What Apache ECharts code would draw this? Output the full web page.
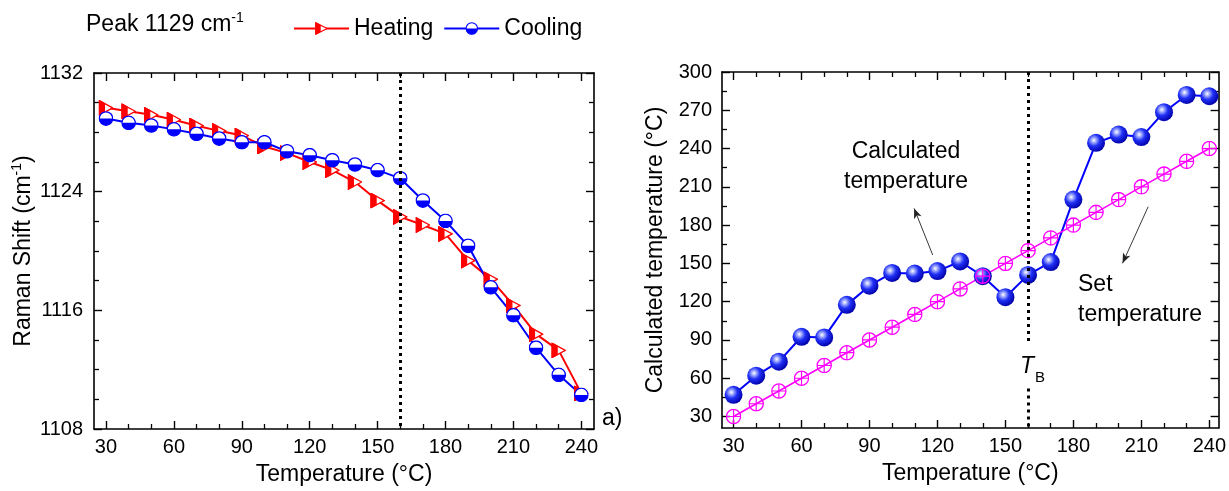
<!DOCTYPE html>
<html>
<head>
<meta charset="utf-8">
<style>
  html, body { margin: 0; padding: 0; background: #fff; }
  #container { width: 1229px; height: 491px; }
</style>
<script src="https://cdn.jsdelivr.net/npm/echarts@6/dist/echarts.min.js"></script>
</head>
<body>
<div id="container"></div>
<script>
// ---- data ----
var temps = [30, 40, 50, 60, 70, 80, 90, 100, 110, 120, 130, 140, 150, 160, 170, 180, 190, 200, 210, 220, 230, 240];
var heating = [1129.65, 1129.42, 1129.18, 1128.85, 1128.45, 1128.1, 1127.78, 1127.05, 1126.6, 1126.0, 1125.45,
  1124.65, 1123.4, 1122.3, 1121.75, 1121.15, 1119.35, 1118.1, 1116.33, 1114.4, 1113.3, 1110.4];
var cooling = [1128.93, 1128.64, 1128.46, 1128.2, 1127.9, 1127.58, 1127.33, 1127.33, 1126.72, 1126.46, 1126.12,
  1125.83, 1125.45, 1124.9, 1123.4, 1122.03, 1120.35, 1117.55, 1115.67, 1113.48, 1111.65, 1110.3];
var calculated = [47, 62, 73, 92.5, 92, 117.5, 132.5, 142.5, 142, 144, 151.5, 140, 123.5, 141, 151, 200, 244.5, 251, 249, 268.5, 282, 281];
var setTemp = [30, 40, 50, 60, 70, 80, 90, 100, 110, 120, 130, 140, 150, 160, 170, 180, 190, 200, 210, 220, 230, 240];

var tempTicks = [30, 60, 90, 120, 150, 180, 210, 240];
var tempMinor = [40, 50, 70, 80, 100, 110, 130, 140, 160, 170, 190, 200, 220, 230];
var shiftTicks = [1108, 1116, 1124, 1132];
var shiftMinor = [1110, 1112, 1114, 1118, 1120, 1122, 1126, 1128, 1130];
var calcTicks = [30, 60, 90, 120, 150, 180, 210, 240, 270, 300];
var calcMinor = [45, 75, 105, 135, 165, 195, 225, 255, 285];
var transitionT = 160;

var FONT = '"Liberation Sans", Arial, sans-serif';

function svgSym(svg) {
  return 'image://data:image/svg+xml;charset=utf-8,' + encodeURIComponent(svg);
}
// right-pointing triangle, left part filled
var triSym = svgSym('<svg xmlns="http://www.w3.org/2000/svg" width="30" height="32" viewBox="0 0 15 16">' +
  '<polygon points="0.8,0.8 14.2,8 0.8,15.2" fill="#fff" stroke="#ff0000" stroke-width="1.3"/>' +
  '<polygon points="0.8,0.8 6,3.6 6,12.4 0.8,15.2" fill="#ff0000" stroke="#ff0000" stroke-width="1.1"/></svg>');
// circle, lower half filled
var halfSym = svgSym('<svg xmlns="http://www.w3.org/2000/svg" width="30" height="30" viewBox="0 0 15 15">' +
  '<circle cx="7.5" cy="7.5" r="6.7" fill="#fff"/>' +
  '<path d="M0.8,7.5 A6.7,6.7 0 0 0 14.2,7.5 Z" fill="#0000ff"/>' +
  '<circle cx="7.5" cy="7.5" r="6.7" fill="none" stroke="#0000ff" stroke-width="1.3"/></svg>');
// open circle with plus
var plusSym = svgSym('<svg xmlns="http://www.w3.org/2000/svg" width="32" height="32" viewBox="0 0 16 16">' +
  '<circle cx="8" cy="8" r="7.1" fill="none" stroke="#ff00ff" stroke-width="1.3"/>' +
  '<path d="M8,0.9 V15.1 M0.9,8 H15.1" stroke="#ff00ff" stroke-width="1.2"/></svg>');

function axisPair(grid, pos, min, max, major, minor, extra) {
  var line = { show: true, onZero: false, lineStyle: { color: '#000', width: 1.6 } };
  var a = Object.assign({
    type: 'value', gridIndex: grid, position: pos, min: min, max: max,
    splitLine: { show: false }, axisLine: line,
    axisTick: { show: true, inside: true, length: 8, customValues: major, lineStyle: { color: '#000', width: 1.4 } },
    axisLabel: { show: false }
  }, extra || {});
  var b = {
    type: 'value', gridIndex: grid, position: pos, min: min, max: max,
    splitLine: { show: false }, axisLine: { show: false },
    axisTick: { show: true, inside: true, length: 5, customValues: minor, lineStyle: { color: '#000', width: 1.3 } },
    axisLabel: { show: false }
  };
  return [a, b];
}

function labels(vals, margin) {
  return {
    show: true, customValues: vals, margin: margin, fontSize: 20, color: '#000', fontFamily: FONT,
    formatter: function (v) { return String(v); }
  };
}
var nameStyle = {
  fontSize: 23, color: '#000', fontFamily: FONT,
  rich: {
    t: { fontSize: 23, color: '#000', fontFamily: FONT, lineHeight: 28 },
    s: { fontSize: 14, color: '#000', fontFamily: FONT, verticalAlign: 'top', lineHeight: 14 }
  }
};

var xAxes = [].concat(
  axisPair(0, 'bottom', 24.7, 245.6, tempTicks, tempMinor, {
    axisLabel: labels(tempTicks, 8), name: 'Temperature (°C)', nameLocation: 'middle', nameGap: 34, nameTextStyle: nameStyle
  }),
  axisPair(0, 'top', 24.7, 245.6, tempTicks, tempMinor),
  axisPair(1, 'bottom', 24.9, 244.1, tempTicks, tempMinor, {
    axisLabel: labels(tempTicks, 8), name: 'Temperature (°C)', nameLocation: 'middle', nameGap: 34, nameTextStyle: nameStyle
  }),
  axisPair(1, 'top', 24.9, 244.1, tempTicks, tempMinor)
);
var yAxes = [].concat(
  axisPair(0, 'left', 1108, 1132, shiftTicks, shiftMinor, {
    axisLabel: labels(shiftTicks, 11), name: '{t|Raman Shift (cm}{s|-1}{t|)}', nameLocation: 'middle', nameGap: 56, nameTextStyle: nameStyle
  }),
  axisPair(0, 'right', 1108, 1132, shiftTicks, shiftMinor),
  axisPair(1, 'left', 21, 300, calcTicks, calcMinor, {
    axisLabel: labels(calcTicks, 10), name: 'Calculated temperature (°C)', nameLocation: 'middle', nameGap: 55, nameTextStyle: nameStyle
  }),
  axisPair(1, 'right', 21, 300, calcTicks, calcMinor)
);

function pairs(ys) {
  return temps.map(function (t, i) { return [t, ys[i]]; });
}

var dotted = { color: '#000', type: [3, 4], width: 3 };
var arrowStyle = { color: '#222', type: 'solid', width: 0.9 };

var option = {
  animation: false,
  textStyle: { fontFamily: FONT },
  grid: [
    { left: 94, top: 73, width: 500, height: 358 },
    { left: 722, top: 72, width: 497, height: 356 }
  ],
  legend: {
    data: ['Heating', 'Cooling'],
    left: 288, top: 12,
    itemWidth: 55, itemHeight: 16, itemGap: 10,
    textStyle: { fontSize: 23, color: '#000', fontFamily: FONT }
  },
  xAxis: xAxes,
  yAxis: yAxes,
  series: [
    {
      name: 'Heating', type: 'line', xAxisIndex: 0, yAxisIndex: 0,
      data: pairs(heating), symbol: triSym, symbolSize: [15, 16],
      itemStyle: { color: '#ff0000' }, lineStyle: { color: '#ff0000', width: 2 }
    },
    {
      name: 'Cooling', type: 'line', xAxisIndex: 0, yAxisIndex: 0,
      data: pairs(cooling), symbol: halfSym, symbolSize: 15,
      itemStyle: { color: '#0000ff' }, lineStyle: { color: '#0000ff', width: 2 },
      markLine: {
        silent: true, symbol: 'none', label: { show: false }, lineStyle: dotted,
        data: [[{ coord: [transitionT, 1132] }, { coord: [transitionT, 1108] }]]
      }
    },
    {
      name: 'Calculated', type: 'line', xAxisIndex: 4, yAxisIndex: 4,
      data: pairs(calculated), symbol: 'circle', symbolSize: 18,
      itemStyle: {
        color: {
          type: 'radial', x: 0.38, y: 0.36, r: 0.66,
          colorStops: [
            { offset: 0, color: '#ffffff' },
            { offset: 0.18, color: '#a9b3ff' },
            { offset: 0.5, color: '#2030f5' },
            { offset: 1, color: '#0000a8' }
          ]
        }
      },
      lineStyle: { color: '#0000ff', width: 2 },
      markLine: {
        silent: true, symbol: 'none', label: { show: false }, lineStyle: dotted,
        data: [
          [{ coord: [transitionT, 300] }, { coord: [transitionT, 86] }],
          [{ coord: [transitionT, 52] }, { coord: [transitionT, 21] }]
        ]
      }
    },
    {
      name: 'Set', type: 'line', xAxisIndex: 4, yAxisIndex: 4,
      data: pairs(setTemp), symbol: plusSym, symbolSize: 16,
      itemStyle: { color: '#ff00ff' }, lineStyle: { color: '#ff00ff', width: 1.6 },
      markLine: {
        silent: true, label: { show: false }, lineStyle: arrowStyle,
        symbol: ['none', 'arrow'], symbolSize: [6, 10],
        data: [
          [{ coord: [117.9, 156.6] }, { coord: [109.7, 193.1] }],
          [{ coord: [213.0, 194.4] }, { coord: [201.7, 150.1] }]
        ]
      }
    }
  ],
  graphic: [
    {
      type: 'text', left: 86, top: 11,
      style: {
        text: '{t|Peak 1129 cm}{s|-1}',
        rich: {
          t: { fontSize: 23, fill: '#000', fontFamily: FONT, lineHeight: 28 },
          s: { fontSize: 14, fill: '#000', fontFamily: FONT, verticalAlign: 'top', lineHeight: 14 }
        }
      }
    },
    { type: 'text', x: 602, y: 419, style: { text: 'a)', font: '23px ' + FONT, fill: '#000', verticalAlign: 'middle' } },
    {
      type: 'text', x: 906, y: 167,
      style: { text: 'Calculated\ntemperature', font: '23px ' + FONT, fill: '#000', align: 'center', verticalAlign: 'middle', lineHeight: 30 }
    },
    {
      type: 'text', x: 1078, y: 300,
      style: { text: 'Set\ntemperature', font: '23px ' + FONT, fill: '#000', align: 'left', verticalAlign: 'middle', lineHeight: 30 }
    },
    { type: 'text', x: 1020, y: 367, style: { text: 'T', font: 'italic 23px ' + FONT, fill: '#000', verticalAlign: 'middle' } },
    { type: 'text', x: 1035, y: 378, style: { text: 'B', font: '15px ' + FONT, fill: '#000', verticalAlign: 'middle' } }
  ]
};

var myChart = echarts.init(document.getElementById('container'), null, { renderer: 'canvas' });
myChart.setOption(option);
window.addEventListener('resize', myChart.resize);
</script>
</body>
</html>
